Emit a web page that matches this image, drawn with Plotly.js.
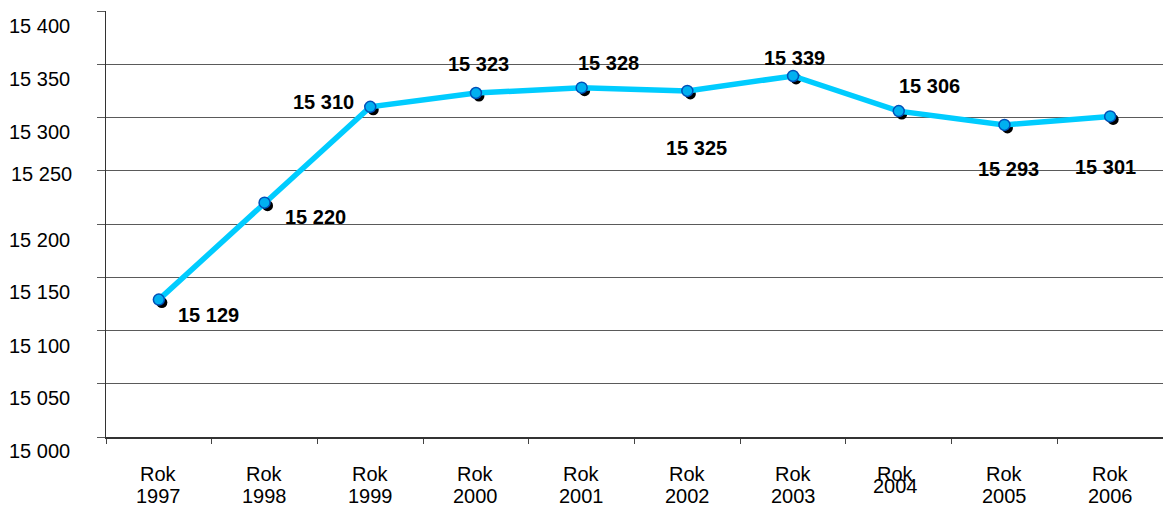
<!DOCTYPE html>
<html>
<head>
<meta charset="utf-8">
<script src="https://cdn.plot.ly/plotly-3.0.1.min.js"></script>
<style>
html,body{margin:0;padding:0;background:#fff;overflow:hidden;}
#chart{width:1163px;height:509px;}
</style>
</head>
<body>
<div id="chart"></div>
<script>
// ---- data ----
const categories = ["1997","1998","1999","2000","2001","2002","2003","2004","2005","2006"];
const xLabelPrefix = "Rok";
const values = [15129, 15220, 15310, 15323, 15328, 15325, 15339, 15306, 15293, 15301];
const valueLabels = ["15 129","15 220","15 310","15 323","15 328","15 325","15 339","15 306","15 293","15 301"];
const yTickVals = [15000, 15050, 15100, 15150, 15200, 15250, 15300, 15350, 15400];
const yTickText = ["15 000","15 050","15 100","15 150","15 200","15 250","15 300","15 350","15 400"];

// ---- label placement (pixel offsets, style only) ----
const labelDx = [50, 51, -47, 3, 27, 9, 1, 31, 4, -5];
const labelDy = [15, 14, -5, -29, -25, 57, -18, -25, 44, 51]; // + = down
const yLabDy = [14, 14, 15, 15, 16, 3, 14, 15, 15];           // + = down
const yLabDx = [-34, -34, -34, -34, -34, -32, -34, -34, -34];

const FONT = "Arial, 'Liberation Sans', sans-serif";
const yRange = [15000, 15400];
const xRange = [-0.5, categories.length - 0.5];
const W = 1163, H = 509, ML = 106, MR = 0, MT = 11, MB = 72;
const pxX = (xRange[1]-xRange[0])/(W-ML-MR);
const pxY = (yRange[1]-yRange[0])/(H-MT-MB);
const shadowOff = 3; // px

const shadow = {
  x: categories, y: values, xaxis: 'x', yaxis: 'y',
  type: 'scatter', mode: 'markers',
  marker: {size: 11, color: '#000000'},
  hoverinfo: 'skip', showlegend: false
};
const main = {
  x: categories, y: values, xaxis: 'x2', yaxis: 'y2',
  type: 'scatter', mode: 'lines+markers',
  line: {color: '#00CCFF', width: 5.5},
  marker: {size: 11, color: '#00B0F0', line: {color: '#0050B8', width: 1.5}},
  showlegend: false
};

const annotations = [];
categories.forEach((c, i) => {
  annotations.push({
    xref: 'x2', yref: 'y2', x: i, y: values[i],
    text: '<b>' + valueLabels[i] + '</b>', showarrow: false,
    xanchor: 'center', yanchor: 'middle',
    xshift: labelDx[i], yshift: -labelDy[i],
    font: {family: FONT, size: 20, color: '#000'}
  });
  const is04 = (c === "2004");
  annotations.push({
    xref: 'x2', yref: 'paper', x: i, y: 0,
    text: xLabelPrefix, showarrow: false,
    xanchor: 'center', yanchor: 'middle',
    xshift: is04 ? -3 : 0, yshift: -37,
    font: {family: FONT, size: 20, color: '#000'}
  });
  annotations.push({
    xref: 'x2', yref: 'paper', x: i, y: 0,
    text: c, showarrow: false,
    xanchor: 'center', yanchor: 'middle',
    xshift: is04 ? -3 : 0, yshift: is04 ? -49 : -59,
    font: {family: FONT, size: 20, color: '#000'}
  });
});
yTickVals.forEach((v, i) => {
  annotations.push({
    xref: 'paper', yref: 'y2', x: 0, y: v,
    text: yTickText[i], showarrow: false,
    xanchor: 'right', yanchor: 'middle',
    xshift: yLabDx[i], yshift: -yLabDy[i],
    font: {family: FONT, size: 20, color: '#000'}
  });
});

const layout = {
  width: W, height: H,
  margin: {l: ML, r: MR, t: MT, b: MB, pad: 0},
  paper_bgcolor: '#fff', plot_bgcolor: '#fff',
  font: {family: FONT, size: 20, color: '#000'},
  showlegend: false,
  xaxis: {
    type: 'category', range: [xRange[0] - shadowOff*pxX, xRange[1] - shadowOff*pxX],
    visible: false, fixedrange: true
  },
  yaxis: {
    range: [yRange[0] + shadowOff*pxY, yRange[1] + shadowOff*pxY],
    visible: false, fixedrange: true
  },
  xaxis2: {
    type: 'category', overlaying: 'x', range: xRange,
    showgrid: false, zeroline: false,
    showline: true, linecolor: '#333', linewidth: 1.5,
    ticks: 'outside', tickson: 'boundaries', ticklen: 5, tickcolor: '#444', tickwidth: 1,
    showticklabels: false
  },
  yaxis2: {
    overlaying: 'y', range: yRange,
    tickvals: yTickVals, showticklabels: false,
    showgrid: true, gridcolor: '#5a5a5a', gridwidth: 1, zeroline: false,
    showline: true, linecolor: '#333', linewidth: 1.5,
    ticks: 'outside', ticklen: 8, tickcolor: '#5a5a5a', tickwidth: 1
  },
  annotations: annotations
};

Plotly.newPlot('chart', [shadow, main], layout, {displayModeBar: false, staticPlot: true});
</script>
</body>
</html>
